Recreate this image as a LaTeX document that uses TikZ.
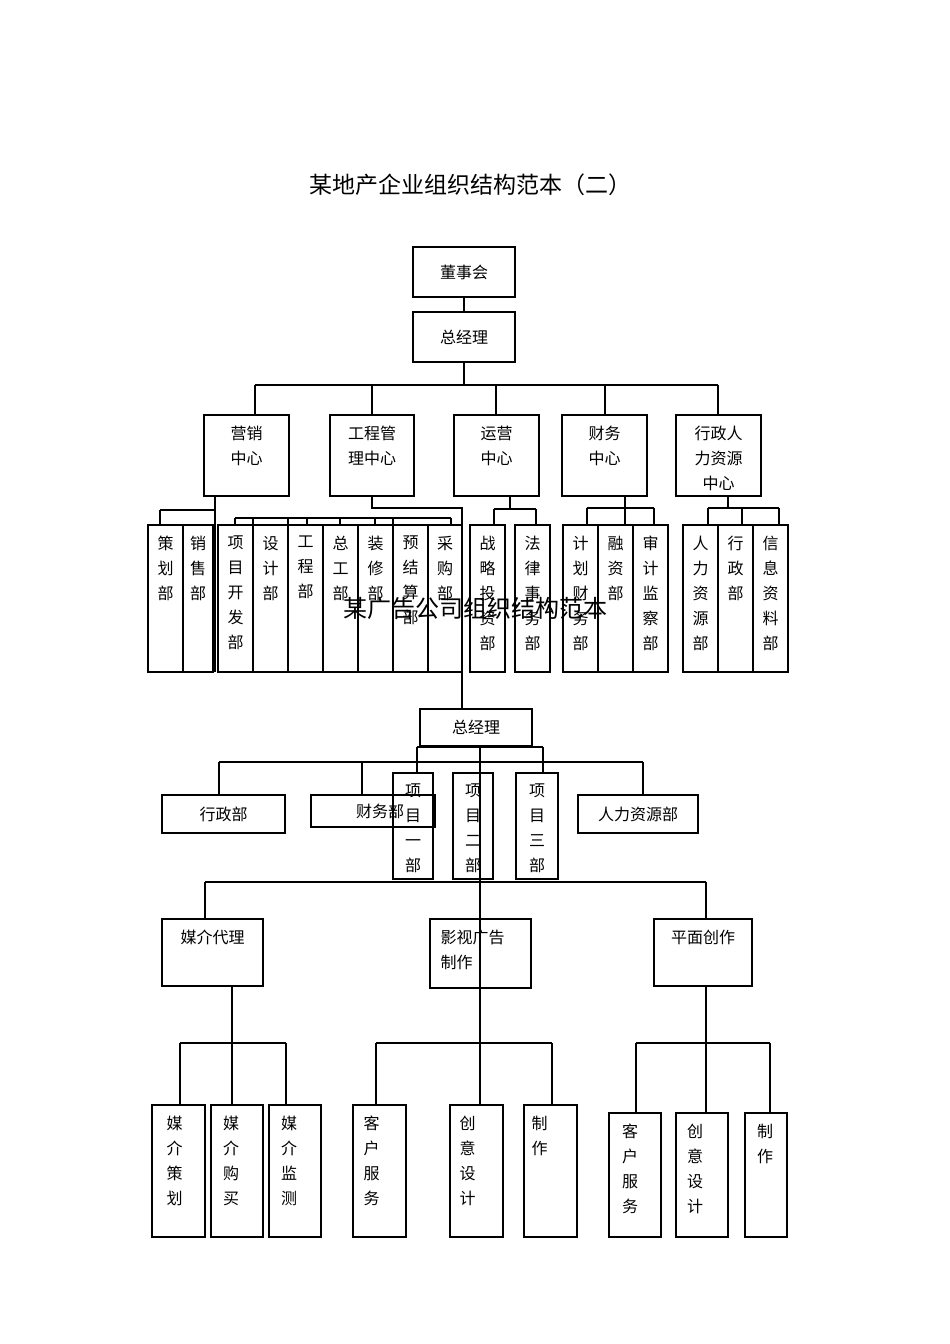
\documentclass[tikz,border=0pt]{standalone}
\usepackage{fontspec}
\setmainfont{Noto Sans CJK SC}
\begin{document}
\begin{tikzpicture}[x=1pt,y=-1pt,line width=1.1pt,
  box/.style={draw,inner sep=0pt},
  txt/.style={font=\fontsize{16}{25}\selectfont,align=center,inner sep=0pt,anchor=north}]
\useasboundingbox (0,0) rectangle (950,1344);
\newcommand\bx[7]{%
 \pgfmathsetmacro\bw{#4-#2}\pgfmathsetmacro\bh{#5-#3}%
 \node[box,minimum width=\bw pt,minimum height=\bh pt] (#1) at ({(#2+#4)/2},{(#3+#5)/2}) {};
 \node[txt,#6] (#1t) at ([yshift=-11pt]#1.north) {#7};}
\newcommand\hb[6]{%
 \pgfmathsetmacro\bw{#4-#2}\pgfmathsetmacro\bh{#5-#3}%
 \node[box,minimum width=\bw pt,minimum height=\bh pt,font=\fontsize{16}{25}\selectfont] (#1) at ({(#2+#4)/2},{(#3+#5)/2}) {#6};}
\node[font=\fontsize{23}{25}\selectfont] (title) at (470,185) {某地产企业组织结构范本（二）};
% top
\hb{dsh}{413}{247}{515}{297}{董事会}
\hb{zjl}{413}{312}{515}{362}{总经理}
\draw (dsh.south) -- (zjl.north);
\bx{yx}{204}{415}{289}{496}{}{营销\\中心}
\bx{gc}{330}{415}{414}{496}{}{工程管\\理中心}
\bx{yy}{454}{415}{539}{496}{}{运营\\中心}
\bx{cw}{562}{415}{647}{496}{}{财务\\中心}
\bx{xz}{676}{415}{761}{496}{}{行政人\\力资源\\中心}
\draw (zjl.south) -- (464,385);
\draw (255,385) -- (718,385);
\foreach \n/\x in {yx/255,gc/372,yy/496,cw/605,xz/718} \draw (\x,385) -- (\x,415);
% level 3
\bx{ch}{148}{525}{183}{672}{}{策\\划\\部}
\bx{xs}{183}{525}{213}{672}{}{销\\售\\部}
\bx{xm}{218}{525}{253}{672}{}{项\\目\\开\\发\\部}
\bx{sj}{253}{525}{288}{672}{}{设\\计\\部}
\bx{gcb}{288}{525}{323}{672}{}{工\\程\\部}
\bx{zg}{323}{525}{358}{672}{}{总\\工\\部}
\bx{zx}{358}{525}{393}{672}{}{装\\修\\部}
\bx{yj}{393}{525}{428}{672}{}{预\\结\\算\\部}
\bx{cg}{428}{525}{462}{672}{}{采\\购\\部}
\bx{zl}{470}{525}{505}{672}{}{战\\略\\投\\资\\部}
\bx{fl}{515}{525}{550}{672}{}{法\\律\\事\\务\\部}
\bx{jh}{563}{525}{598}{672}{}{计\\划\\财\\务\\部}
\bx{rz}{598}{525}{633}{672}{}{融\\资\\部}
\bx{sjj}{633}{525}{668}{672}{}{审\\计\\监\\察\\部}
\bx{rl}{683}{525}{718}{672}{}{人\\力\\资\\源\\部}
\bx{xzb}{718}{525}{753}{672}{}{行\\政\\部}
\bx{xx}{753}{525}{788}{672}{}{信\\息\\资\\料\\部}
% marketing
\draw (215,496) -- (215,672);
\draw (160,510) -- (215,510); \draw (160,510) -- (160,525);
% engineering
\draw (372,496) -- (372,508) -- (462,508) -- (462,709);
\draw (235,518) -- (451,518);
\foreach \x in {235,253,288,307,340,375,393,451} \draw (\x,518) -- (\x,525);
% operations
\draw (510,496) -- (510,509); \draw (494,509) -- (536,509);
\draw (494,509) -- (494,525); \draw (536,509) -- (536,525);
% finance
\draw (625,496) -- (625,525); \draw (587,508) -- (654,508);
\draw (587,508) -- (587,525); \draw (654,508) -- (654,525);
% hr
\draw (728,496) -- (728,508); \draw (708,508) -- (779,508);
\foreach \x in {708,742,779} \draw (\x,508) -- (\x,525);
% watermark
\node[font=\fontsize{24}{25}\selectfont] (wm) at (475,608) {某广告公司组织结构范本};
% second chart
\hb{zjl2}{420}{709}{532}{746}{总经理}
\draw (417,747) -- (543,747);
\draw (417,747) -- (417,773); \draw (543,747) -- (543,773);
\draw (219,762) -- (643,762);
\draw (219,762) -- (219,795); \draw (362,762) -- (362,795); \draw (643,762) -- (643,795);
\hb{xzb2}{162}{795}{285}{833}{行政部}
\hb{cwb2}{311}{795}{435}{827}{\hspace*{14pt}财务部}
\hb{rlb2}{578}{795}{698}{833}{人力资源部}
\bx{xm1}{393}{773}{433}{879}{}{项\\目\\一\\部}
\bx{xm2}{453}{773}{493}{879}{}{项\\目\\二\\部}
\bx{xm3}{516}{773}{558}{879}{}{项\\目\\三\\部}
\draw (205,882) -- (706,882);
\draw (205,882) -- (205,919); \draw (706,882) -- (706,919);
\bx{mj}{162}{919}{263}{986}{}{媒介代理}
\bx{ys}{430}{919}{531}{988}{xshift=-8pt,align=left}{影视广告\\制作}
\bx{pm}{654}{919}{752}{986}{}{平面创作}
\draw (480,746) -- (480,1105);
% bottom
\bx{m1}{152}{1105}{205}{1237}{xshift=-4pt}{媒\\介\\策\\划}
\bx{m2}{211}{1105}{263}{1237}{xshift=-6pt}{媒\\介\\购\\买}
\bx{m3}{269}{1105}{321}{1237}{xshift=-6pt}{媒\\介\\监\\测}
\draw (232,986) -- (232,1105);
\draw (180,1043) -- (286,1043);
\draw (180,1043) -- (180,1105); \draw (286,1043) -- (286,1105);
\bx{y1}{353}{1105}{406}{1237}{xshift=-8pt}{客\\户\\服\\务}
\bx{y2}{450}{1105}{503}{1237}{xshift=-9pt}{创\\意\\设\\计}
\bx{y3}{524}{1105}{577}{1237}{xshift=-11pt}{制\\作}
\draw (376,1043) -- (552,1043);
\draw (376,1043) -- (376,1105); \draw (552,1043) -- (552,1105);
\bx{p1}{609}{1113}{661}{1237}{xshift=-5pt}{客\\户\\服\\务}
\bx{p2}{676}{1113}{728}{1237}{xshift=-7pt}{创\\意\\设\\计}
\bx{p3}{745}{1113}{787}{1237}{xshift=-1pt}{制\\作}
\draw (706,986) -- (706,1113);
\draw (636,1043) -- (770,1043);
\draw (636,1043) -- (636,1113); \draw (770,1043) -- (770,1113);
\end{tikzpicture}
\end{document}
